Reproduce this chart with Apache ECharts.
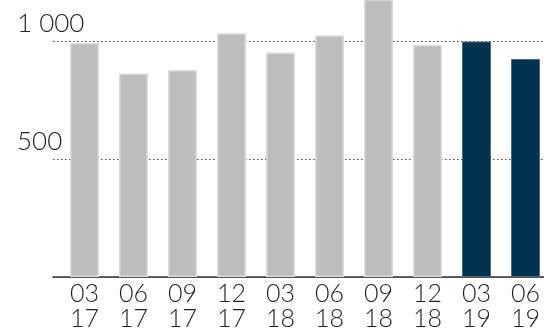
<!DOCTYPE html>
<html>
<head>
<meta charset="utf-8">
<script src="https://cdn.jsdelivr.net/npm/echarts@6/dist/echarts.min.js"></script>
<style>
html,body{margin:0;padding:0;background:#fff;}
#c{width:544px;height:333px;}
</style>
</head>
<body>
<div id="c"></div>
<script>
var categories = ['03\n17','06\n17','09\n17','12\n17','03\n18','06\n18','09\n18','12\n18','03\n19','06\n19'];
var values = [992, 863, 877, 1033, 952, 1025, 1250, 983, 998, 924];
var highlighted = [false, false, false, false, false, false, false, false, true, true];
var yTickLabels = {500: '500', 1000: '1 000'};
var yMax = 1174;

var FONT = 'Lato, "Open Sans", sans-serif';
var chart = echarts.init(document.getElementById('c'), null, {renderer: 'canvas'});

var barData = values.map(function (v, i) {
  return {
    value: v,
    itemStyle: highlighted[i]
      ? {color: '#00334f', borderColor: '#4d6a80', borderWidth: 1}
      : {color: '#bcbdbf', borderColor: '#dcdcde', borderWidth: 1.5}
  };
});

chart.setOption({
  animation: false,
  grid: [
    {left: 53, right: 0, top: 0, height: 277, outerBoundsMode: 'none', containLabel: false},
    {left: 60, width: 490, top: 0, height: 277, outerBoundsMode: 'none', containLabel: false}
  ],
  xAxis: [
    {type: 'category', gridIndex: 0, data: categories,
     axisLine: {show: true, lineStyle: {color: '#333', width: 1.5}},
     axisTick: {show: false}, axisLabel: {show: false}, splitLine: {show: false}},
    {type: 'category', gridIndex: 1, data: categories,
     axisLine: {show: false}, axisTick: {show: false},
     axisLabel: {color: '#222', fontFamily: FONT, fontWeight: 300, fontSize: 25, lineHeight: 24.5, margin: 5}}
  ],
  yAxis: [
    {type: 'value', gridIndex: 0, min: 0, max: yMax, interval: 500,
     axisLine: {show: false}, axisTick: {show: false},
     splitLine: {show: true, showMaxLine: false, lineStyle: {color: '#444', width: 1, type: [1.5, 2.5]}},
     axisLabel: {
       align: 'left', verticalAlign: 'bottom', margin: 36,
       padding: [0, 0, 4, 0], showMaxLabel: false,
       color: '#222', fontFamily: FONT, fontWeight: 300, fontSize: 26,
       formatter: function (v) { return yTickLabels[v] || ''; }
     }},
    {type: 'value', gridIndex: 1, min: 0, max: yMax, interval: 500, show: false,
     splitLine: {show: false}}
  ],
  series: [{
    type: 'bar', xAxisIndex: 1, yAxisIndex: 1, clip: true,
    barWidth: 29, data: barData, z: 1
  }]
});
</script>
</body>
</html>
